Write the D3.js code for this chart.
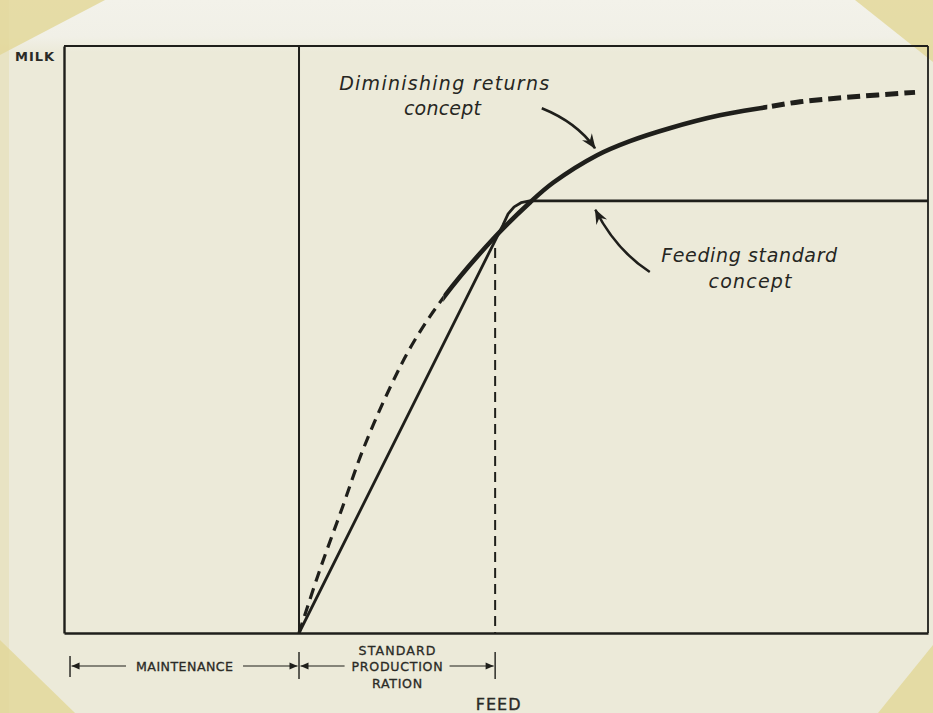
<!DOCTYPE html>
<html><head><meta charset="utf-8">
<script src="https://cdn.jsdelivr.net/npm/d3@7"></script>
<style>html,body{margin:0;padding:0;background:#ecead9;} svg{display:block}</style>
</head><body><svg id="c" width="933" height="713"></svg>
<script>
// ---------- data (feed and milk in relative units, 0-100) ----------
const diminishingFeed = [27.2, 29.6, 32.2, 34.6, 37.7, 40.4, 43.9, 49.9, 53.9, 56.6, 61.7, 65.5, 70.1, 75.9, 81.4, 85.2, 91.0, 98.5];
const diminishingMilk = [0, 10.7, 21.3, 31.2, 41.7, 49.4, 57.1, 67.5, 73.3, 76.7, 81.4, 83.8, 86.0, 88.2, 89.6, 90.5, 91.3, 92.1];
const standardFeed = [27.2, 50.8, 51.4, 52.1, 52.9, 53.9, 100];
const standardMilk = [0, 69.5, 71.4, 72.6, 73.3, 73.6, 73.6];
const maintenanceFeed = 27.2;     // end of maintenance
const rationFeed = 49.9;          // end of standard production ration
const rationMilk = 65.6;
const lowerDashEnd = 43.9;        // diminishing curve dashed below this feed
const upperDashStart = 81.4;      // and dashed beyond this feed
const dimensionStart = 0.35;
const curveLabels = [
  {lines: ["Diminishing returns", "concept"], feed: [44.0, 43.8], milk: [92.5, 88.2], len: [210, 77]},
  {lines: ["Feeding standard", "concept"], feed: [79.3, 79.4], milk: [63.2, 58.8], len: [176, 83]}
];
const arrowNotes = [
  {feed: [55.3, 59.35, 61.46], milk: [89.4, 87.0, 82.6]},
  {feed: [67.8, 63.9, 61.5], milk: [61.5, 65.2, 72.1]}
];
const maintenanceLabel = ["MAINTENANCE"];
const rationLabel = ["STANDARD", "PRODUCTION", "RATION"];
const xLabel = "FEED", yLabel = "MILK";

// ---------- drawing ----------
const W = 933, H = 713;
const ink = "#1f1f1b";
const paper = "#ecead9";
const svg = d3.select("#c");
const x = d3.scaleLinear().domain([0, 100]).range([64, 928]);
const y = d3.scaleLinear().domain([0, 100]).range([633, 46]);

// paper decoration
const defs = svg.append("defs");
const grad = defs.append("linearGradient").attr("id", "topg").attr("x1", 0).attr("x2", 0).attr("y1", 0).attr("y2", 1);
grad.append("stop").attr("offset", "0").attr("stop-color", "#f3f2ea");
grad.append("stop").attr("offset", "0.7").attr("stop-color", "#f1f0e7");
grad.append("stop").attr("offset", "1").attr("stop-color", paper);
svg.append("rect").attr("width", W).attr("height", H).attr("fill", paper);
svg.append("rect").attr("width", W).attr("height", 52).attr("fill", "url(#topg)");
const tape = "#e3d89a";
[[[0,0],[105,0],[0,55]], [[855,0],[933,0],[933,62]], [[0,640],[0,713],[75,713]], [[933,645],[933,713],[878,713]]]
  .forEach(p => svg.append("polygon").attr("points", p.join(" ")).attr("fill", tape).attr("opacity", 0.85));
svg.append("rect").attr("x", 0).attr("y", 0).attr("width", 9).attr("height", 713).attr("fill", tape).attr("opacity", 0.35);

// markers
defs.append("marker").attr("id", "barb").attr("viewBox", "-16 -8 18 16").attr("refX", 0).attr("refY", 0)
  .attr("markerWidth", 18).attr("markerHeight", 16).attr("markerUnits", "userSpaceOnUse").attr("orient", "auto")
  .append("path").attr("d", "M1,0 L-14,-6 L-9,0 L-14,6 Z").attr("fill", ink);
defs.append("marker").attr("id", "tri").attr("viewBox", "-9 -4 10 8").attr("refX", 0).attr("refY", 0)
  .attr("markerWidth", 10).attr("markerHeight", 8).attr("markerUnits", "userSpaceOnUse").attr("orient", "auto")
  .append("path").attr("d", "M0,0 L-8,-3.5 L-8,3.5 Z").attr("fill", ink);

// frame via axes
const g = svg.append("g");
g.append("g").attr("transform", `translate(${x(0)},0)`).call(d3.axisLeft(y).ticks(0).tickSize(0).tickSizeOuter(0))
  .call(s => s.select(".domain").attr("stroke", ink).attr("stroke-width", 2.4));
g.append("g").attr("transform", `translate(0,${y(0)})`).call(d3.axisBottom(x).ticks(0).tickSize(0).tickSizeOuter(0))
  .call(s => s.select(".domain").attr("stroke", ink).attr("stroke-width", 2.4));
g.append("line").attr("x1", x(0)).attr("x2", x(100)).attr("y1", y(100)).attr("y2", y(100)).attr("stroke", ink).attr("stroke-width", 2);
g.append("line").attr("x1", x(100)).attr("x2", x(100)).attr("y1", y(100)).attr("y2", y(0)).attr("stroke", ink).attr("stroke-width", 1.8);

// maintenance vertical
g.append("line").attr("x1", x(maintenanceFeed)).attr("x2", x(maintenanceFeed)).attr("y1", y(100)).attr("y2", y(0))
  .attr("stroke", ink).attr("stroke-width", 2);
// ration vertical dashed
g.append("line").attr("x1", x(rationFeed)).attr("x2", x(rationFeed)).attr("y1", y(rationMilk)).attr("y2", y(0))
  .attr("stroke", ink).attr("stroke-width", 2).attr("stroke-dasharray", "10,6");

// feeding standard line
const stdPts = standardFeed.map((f, i) => [f, standardMilk[i]]);
g.append("path").datum(stdPts).attr("fill", "none").attr("stroke", ink).attr("stroke-width", 2.8)
  .attr("stroke-linejoin", "round")
  .attr("d", d3.line().x(d => x(d[0])).y(d => y(d[1])).curve(d3.curveLinear));

// diminishing returns curve, clipped into three parts
const dimPts = diminishingFeed.map((f, i) => [f, diminishingMilk[i]]);
const dLine = d3.line().x(d => x(d[0])).y(d => y(d[1])).curve(d3.curveCatmullRom.alpha(0.5));
const parts = [
  {id: "c1", lo: 0, hi: lowerDashEnd, w: 3.2, dash: "11,7"},
  {id: "c2", lo: lowerDashEnd, hi: upperDashStart, w: 4.6, dash: null},
  {id: "c3", lo: upperDashStart, hi: 100, w: 5, dash: "13,6"}
];
parts.forEach(p => {
  defs.append("clipPath").attr("id", p.id).append("rect")
    .attr("x", x(p.lo)).attr("width", x(p.hi) - x(p.lo)).attr("y", 0).attr("height", H);
  g.append("path").datum(dimPts).attr("fill", "none").attr("stroke", ink).attr("stroke-width", p.w)
    .attr("stroke-dasharray", p.dash).attr("clip-path", `url(#${p.id})`).attr("d", dLine);
});

// annotation arrows
arrowNotes.forEach(a => {
  const p = d3.path();
  p.moveTo(x(a.feed[0]), y(a.milk[0]));
  p.quadraticCurveTo(x(a.feed[1]), y(a.milk[1]), x(a.feed[2]), y(a.milk[2]));
  g.append("path").attr("d", p.toString()).attr("fill", "none").attr("stroke", ink).attr("stroke-width", 2.6)
    .attr("marker-end", "url(#barb)");
});

// curve labels
curveLabels.forEach(l => {
  l.lines.forEach((t, i) => {
    g.append("text").attr("x", x(l.feed[i])).attr("y", y(l.milk[i])).attr("text-anchor", "middle")
      .attr("font-family", "DejaVu Sans, sans-serif").attr("font-style", "italic").attr("font-size", 19)
      .attr("fill", "#262622").attr("textLength", l.len[i]).attr("lengthAdjust", "spacing").text(t);
  });
});

// axis titles
g.append("text").attr("x", 15).attr("y", 61).attr("font-family", "DejaVu Sans, sans-serif").attr("font-weight", "bold")
  .attr("font-size", 13).attr("fill", "#2a2a26").attr("textLength", 39).attr("lengthAdjust", "spacing").text(yLabel);
g.append("text").attr("x", x(rationFeed) + 3).attr("y", 710).attr("text-anchor", "middle")
  .attr("font-family", "DejaVu Sans, sans-serif").attr("font-size", 16).attr("fill", "#2a2a26")
  .attr("stroke", "#2a2a26").attr("stroke-width", 0.35)
  .attr("textLength", 45).attr("lengthAdjust", "spacing").text(xLabel);

// dimension lines
const dimY = 666;
function dimension(f0, f1, lines, lens, baselines, gap) {
  const x0 = x(f0), x1 = x(f1), cx = (x0 + x1) / 2;
  lines.forEach((t, i) => {
    g.append("text").attr("x", cx).attr("y", baselines[i]).attr("text-anchor", "middle")
      .attr("font-family", "DejaVu Sans, sans-serif").attr("font-size", 12.6).attr("fill", "#2a2a26")
      .attr("stroke", "#2a2a26").attr("stroke-width", 0.3)
      .attr("textLength", lens[i]).attr("lengthAdjust", "spacing").text(t);
  });
  const half = d3.max(lens) / 2 + gap;
  g.append("line").attr("x1", cx - half).attr("x2", x0 + 1.5).attr("y1", dimY).attr("y2", dimY)
    .attr("stroke", ink).attr("stroke-width", 1.2).attr("marker-end", "url(#tri)");
  g.append("line").attr("x1", cx + half).attr("x2", x1 - 1.5).attr("y1", dimY).attr("y2", dimY)
    .attr("stroke", ink).attr("stroke-width", 1.2).attr("marker-end", "url(#tri)");
}
[dimensionStart, maintenanceFeed, rationFeed].forEach((f, i) => {
  g.append("line").attr("x1", x(f) + (i === 0 ? 3 : 0)).attr("x2", x(f) + (i === 0 ? 3 : 0))
    .attr("y1", i === 0 ? 656 : 652).attr("y2", i === 0 ? 677 : 679).attr("stroke", ink).attr("stroke-width", 1.4);
});
dimension(dimensionStart + 0.35, maintenanceFeed, maintenanceLabel, [97], [671], 10);
dimension(maintenanceFeed, rationFeed, rationLabel, [77, 91, 50], [655, 671, 688], 7);
</script></body></html>
